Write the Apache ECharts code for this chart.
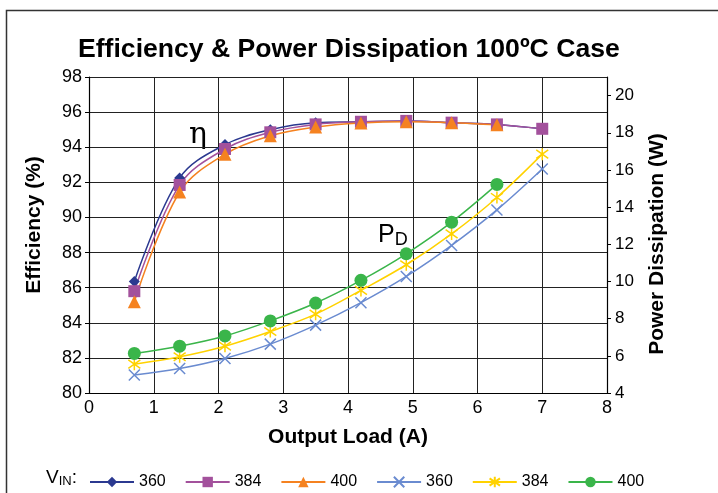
<!DOCTYPE html>
<html>
<head>
<meta charset="utf-8">
<title>Efficiency & Power Dissipation 100ºC Case</title>
<script src="https://cdn.jsdelivr.net/npm/echarts@6/dist/echarts.min.js"></script>
<style>
  html, body { margin: 0; padding: 0; background: #fff; }
  #chartBody { width: 718px; height: 493px; }
</style>
</head>
<body>
<div id="chartBody"></div>
<script type="text/javascript">
// output load (A)
var loadA = [0.7, 1.4, 2.1, 2.8, 3.5, 4.2, 4.9, 5.6, 6.3, 7.0];
// efficiency (%)
var eff360 = [86.35, 92.25, 94.15, 95.0, 95.4, 95.45, 95.5, 95.4, 95.3, 95.05];
var eff384 = [85.8, 91.85, 93.9, 94.85, 95.3, 95.45, 95.5, 95.4, 95.3, 95.05];
var eff400 = [85.2, 91.45, 93.6, 94.65, 95.15, 95.38, 95.45, 95.4, 95.28];
// power dissipation (W)
var pd360 = [4.97, 5.32, 5.86, 6.63, 7.65, 8.86, 10.27, 11.94, 13.85, 16.05];
var pd384 = [5.55, 5.95, 6.52, 7.31, 8.24, 9.52, 10.9, 12.56, 14.52, 16.85];
var pd400 = [6.13, 6.52, 7.07, 7.88, 8.84, 10.06, 11.49, 13.19, 15.22];
// right axis tick labels
var pdTicks = [4, 6, 8, 10, 12, 14, 16, 18, 20];

var FONT = 'Liberation Sans, Arial, sans-serif';

function pairs(ys) {
  return ys.map(function (y, i) { return [loadA[i], y]; });
}

var crossPath = 'path://M0,0L10,10M10,0L0,10';
var starPath = 'path://M5,0L5,10M0,1.5L10,8.5M10,1.5L0,8.5';

function makeSeries(name, ys, axis, color, symbol, size, stroke) {
  return {
    name: name,
    type: 'line',
    yAxisIndex: axis,
    data: pairs(ys),
    smooth: 0.35,
    symbol: symbol,
    symbolSize: size,
    showSymbol: true,
    lineStyle: { color: color, width: 1.5 },
    itemStyle: {
      color: color,
      borderColor: color,
      borderWidth: stroke ? 1.5 : 0
    },
    emphasis: { disabled: true },
    z: 3
  };
}

var myChart = echarts.init(document.getElementById('chartBody'), null, { renderer: 'canvas' });

var option = {
  backgroundColor: '#fff',
  animation: false,
  title: {
    text: 'Efficiency & Power Dissipation 100ºC Case',
    left: 73,
    top: 31,
    textStyle: { fontFamily: FONT, fontWeight: 'bold', fontSize: 26.6, color: '#000' }
  },
  grid: { left: 89, right: 111, top: 77, bottom: 100, containLabel: false },
  legend: {
    left: 84,
    top: 469,
    itemWidth: 44,
    itemHeight: 13,
    itemGap: 19,
    textStyle: { fontFamily: FONT, fontSize: 16, color: '#000' },
    formatter: function (name) { return name.split(' ')[1]; },
    data: ['eff 360', 'eff 384', 'eff 400', 'pd 360', 'pd 384', 'pd 400']
  },
  xAxis: {
    type: 'value',
    min: 0,
    max: 8,
    interval: 1,
    name: 'Output Load (A)',
    nameLocation: 'middle',
    nameGap: 34,
    nameTextStyle: { fontFamily: FONT, fontWeight: 'bold', fontSize: 21, color: '#000' },
    axisLine: { show: true, onZero: false, lineStyle: { color: '#000', width: 1.2 } },
    axisTick: { show: false },
    axisLabel: { fontFamily: FONT, fontSize: 18, color: '#000', margin: 6 },
    splitLine: { show: true, lineStyle: { color: '#222', width: 1 } }
  },
  yAxis: [
    {
      type: 'value',
      min: 80,
      max: 98,
      interval: 2,
      name: 'Efficiency (%)',
      nameLocation: 'middle',
      nameGap: 44,
      nameTextStyle: { fontFamily: FONT, fontWeight: 'bold', fontSize: 21, color: '#000', padding: [0, 0, 0, 20] },
      axisLine: { show: true, lineStyle: { color: '#000', width: 1.2 } },
      axisTick: { show: true, inside: false, length: 4, lineStyle: { color: '#000' } },
      axisLabel: { fontFamily: FONT, fontSize: 18, color: '#000', margin: 7 },
      splitLine: { show: true, lineStyle: { color: '#222', width: 1 } }
    },
    {
      type: 'value',
      min: 4,
      max: 21,
      interval: 2,
      position: 'right',
      name: 'Power Dissipation (W)',
      nameLocation: 'middle',
      nameGap: 40,
      nameTextStyle: { fontFamily: FONT, fontWeight: 'bold', fontSize: 21, color: '#000', padding: [0, 18, 0, 0] },
      axisLine: { show: true, lineStyle: { color: '#000', width: 1.2 } },
      axisTick: { show: true, inside: false, length: 4, customValues: pdTicks, lineStyle: { color: '#000' } },
      axisLabel: { fontFamily: FONT, fontSize: 17, color: '#000', margin: 8, customValues: pdTicks },
      splitLine: { show: false }
    }
  ],
  graphic: [
    {
      type: 'rect',
      left: 4, top: 8,
      shape: { width: 760, height: 520 },
      style: { fill: 'none', stroke: '#333', lineWidth: 1.5 },
      silent: true
    },
    {
      type: 'text',
      left: 46, top: 468,
      style: {
        text: '{v|V}{s|IN}{v|:}',
        rich: {
          v: { fontFamily: FONT, fontSize: 19, fill: '#000' },
          s: { fontFamily: FONT, fontSize: 13, fill: '#000', padding: [8, 0, 0, 0] }
        }
      },
      silent: true
    },
    {
      type: 'text',
      left: 189, top: 120,
      style: { text: 'η', fontFamily: 'DejaVu Serif, Liberation Serif, serif', fontSize: 30, fill: '#000' },
      silent: true
    },
    {
      type: 'text',
      left: 378, top: 223,
      style: {
        text: '{p|P}{d|D}',
        rich: {
          p: { fontFamily: FONT, fontSize: 25, fill: '#000' },
          d: { fontFamily: FONT, fontSize: 18, fill: '#000', padding: [10, 0, 0, 0] }
        }
      },
      silent: true
    }
  ],
  series: [
    makeSeries('pd 360', pd360, 1, '#6A8BD0', crossPath, 11, true),
    makeSeries('pd 384', pd384, 1, '#FFD200', starPath, 12, true),
    makeSeries('pd 400', pd400, 1, '#3AB54A', 'circle', 13, false),
    makeSeries('eff 360', eff360, 0, '#2B3990', 'diamond', 11, false),
    makeSeries('eff 384', eff384, 0, '#A3519C', 'rect', 12, false),
    makeSeries('eff 400', eff400, 0, '#F58220', 'triangle', 13, false)
  ]
};

myChart.setOption(option);
</script>
</body>
</html>
